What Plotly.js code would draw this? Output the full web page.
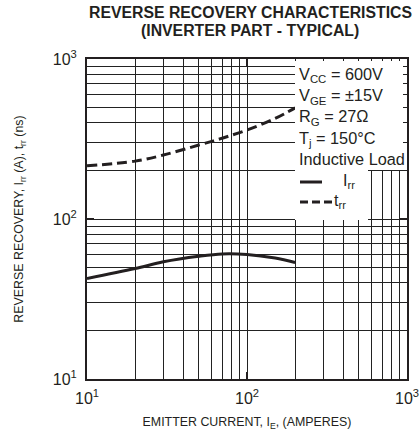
<!DOCTYPE html>
<html>
<head>
<meta charset="utf-8">
<script src="https://cdn.plot.ly/plotly-3.0.1.min.js"></script>
<style>html,body{margin:0;padding:0;background:#fff;}#chart{width:420px;height:431px;}</style>
</head>
<body>
<div id="chart"></div>
<script>
// Emitter current (A)
var emitterCurrent = [10, 20, 30, 50, 70, 100, 150, 200];
// Reverse recovery current Irr (A)
var irr = [42.5, 49, 54, 58.5, 60.5, 60, 57, 53.5];
// Reverse recovery time trr (ns)
var trr = [215, 230, 251, 290, 320, 360, 425, 495];

var majorTicks = [10, 100, 1000];
var majorTickText = ['10<sup>1</sup>', '10<sup>2</sup>', '10<sup>3</sup>'];
var minorTicks = [20, 30, 40, 50, 60, 70, 80, 90, 200, 300, 400, 500, 600, 700, 800, 900];

var titleLines = ['REVERSE RECOVERY CHARACTERISTICS', '(INVERTER PART - TYPICAL)'];
var conditions = 'V<sub>CC</sub> = 600V<br>V<sub>GE</sub> = ±15V<br>R<sub>G</sub> = 27Ω<br>T<sub>j</sub> = 150°C<br>Inductive Load';
var seriesNames = ['I<sub>rr</sub>', 't<sub>rr</sub>'];

var FONT = 'Liberation Sans, Arial, Helvetica, sans-serif';
var INK = '#231f20';
var GRID = '#222';

var traces = [
  {x: emitterCurrent, y: irr, mode: 'lines', name: seriesNames[0],
   line: {color: INK, width: 3, shape: 'spline'}},
  {x: emitterCurrent, y: trr, mode: 'lines', name: seriesNames[1],
   line: {color: INK, width: 3, dash: '10px,5px', shape: 'spline'}}
];

function axis() {
  return {
    type: 'log', range: [1, 3],
    tickvals: majorTicks, ticktext: majorTickText,
    ticks: 'inside', ticklen: 7, tickwidth: 2, tickcolor: INK,
    showline: true, linewidth: 2, linecolor: INK, mirror: 'ticks',
    showgrid: true, gridcolor: GRID, gridwidth: 1,
    minor: {tickvals: minorTicks, showgrid: true, gridcolor: GRID, gridwidth: 1, ticks: ''},
    tickfont: {family: FONT, size: 16, color: INK},
    zeroline: false, fixedrange: true
  };
}

var xa = axis();
xa.title = {text: 'EMITTER CURRENT, I<sub>E</sub>, (AMPERES)', font: {family: FONT, size: 12.4, color: INK}, standoff: 13};
xa.ticklabelstandoff = 4;
var ya = axis();
ya.title = {text: 'REVERSE RECOVERY, I<sub>rr</sub> (A), t<sub>rr</sub> (ns)', font: {family: FONT, size: 12.4, color: INK}, standoff: 26};
ya.ticklabelstandoff = 5;

// pixel -> paper helpers for the plot box (87..407 x, 59..379 y)
function px(x) { return (x - 87) / 320; }
function py(y) { return (379 - y) / 320; }

var layout = {
  width: 420, height: 431,
  margin: {l: 87, r: 13, t: 59, b: 52, autoexpand: false},
  paper_bgcolor: '#fff', plot_bgcolor: '#fff',
  font: {family: FONT, color: INK},
  xaxis: xa, yaxis: ya,
  showlegend: false,
  shapes: [
    {type: 'rect', xref: 'paper', yref: 'paper', x0: px(295), x1: px(403), y0: py(170), y1: py(61),
     fillcolor: '#fff', line: {width: 0}, layer: 'above'},
    {type: 'rect', xref: 'paper', yref: 'paper', x0: px(295), x1: px(368), y0: py(220), y1: py(169),
     fillcolor: '#fff', line: {width: 0}, layer: 'above'},
    {type: 'line', xref: 'paper', yref: 'paper', x0: px(300), x1: px(322), y0: py(182), y1: py(182),
     line: {color: INK, width: 3}, layer: 'above'},
    {type: 'line', xref: 'paper', yref: 'paper', x0: px(300), x1: px(332), y0: py(202), y1: py(202),
     line: {color: INK, width: 3, dash: '8px,4px'}, layer: 'above'}
  ],
  annotations: [
    {xref: 'paper', yref: 'paper', x: 0.51, y: 1.144, xanchor: 'center', yanchor: 'middle',
     text: '<b>' + titleLines[0] + '</b>', showarrow: false, font: {family: FONT, size: 15.8, color: INK}},
    {xref: 'paper', yref: 'paper', x: 0.51, y: 1.089, xanchor: 'center', yanchor: 'middle',
     text: '<b>' + titleLines[1] + '</b>', showarrow: false, font: {family: FONT, size: 15.8, color: INK}},
    {xref: 'paper', yref: 'paper', x: 0.653, y: 0.9906, xanchor: 'left', yanchor: 'top',
     text: conditions, align: 'left', showarrow: false, borderpad: 2,
     font: {family: FONT, size: 16.3, color: INK}},
    {xref: 'paper', yref: 'paper', x: px(341), y: py(181), xanchor: 'left', yanchor: 'middle',
     text: seriesNames[0], showarrow: false, font: {family: FONT, size: 16, color: INK}},
    {xref: 'paper', yref: 'paper', x: px(332), y: py(201), xanchor: 'left', yanchor: 'middle',
     text: seriesNames[1], showarrow: false, font: {family: FONT, size: 16, color: INK}}
  ]
};

Plotly.newPlot('chart', traces, layout, {displayModeBar: false, staticPlot: true});
</script>
</body>
</html>
